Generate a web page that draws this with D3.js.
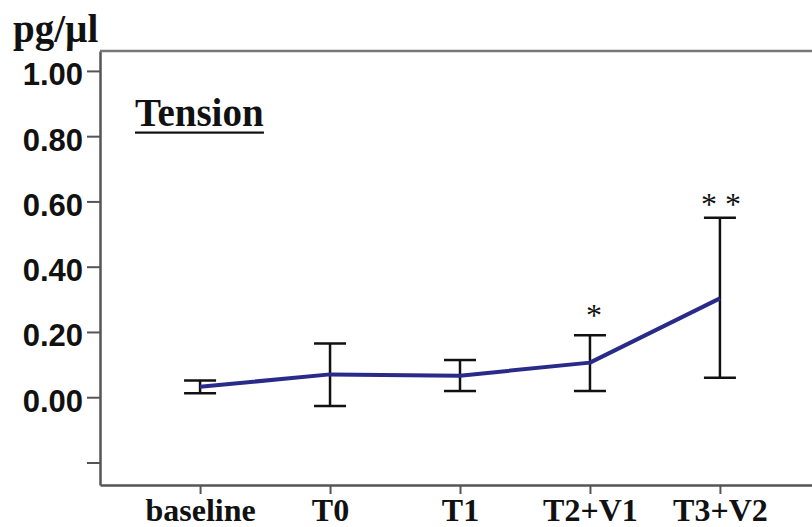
<!DOCTYPE html>
<html>
<head>
<meta charset="utf-8">
<script src="https://cdn.jsdelivr.net/npm/d3@7"></script>
<style>
  html, body { margin: 0; padding: 0; background: #fff; }
  svg { display: block; }
</style>
</head>
<body>
<svg id="chart" width="812" height="527"></svg>
<script>
// Time points and measured concentrations (pg/µl)
const categories = ["baseline", "T0", "T1", "T2+V1", "T3+V2"];
const meanValues = [0.032, 0.070, 0.066, 0.106, 0.303];
const upperValues = [0.051, 0.165, 0.114, 0.190, 0.550];
const lowerValues = [0.012, -0.027, 0.019, 0.019, 0.060];
const significance = ["", "", "", "*", "* *"];
const yTickValues = [-0.2, 0, 0.2, 0.4, 0.6, 0.8, 1.0];

const svg = d3.select("#chart");

const plotLeft = 100, plotRight = 820, plotTop = 51, plotBottom = 485;

const x = d3.scalePoint().domain(categories).range([plotLeft, plotRight]).padding(0.77);
const y = d3.scaleLinear().domain([-0.269, 1.061]).range([plotBottom, plotTop]);

const axisColor = "#555";

// Y axis
const yAxis = svg.append("g")
  .attr("transform", `translate(${plotLeft},0)`)
  .call(d3.axisLeft(y)
    .tickValues(yTickValues)
    .tickSize(13)
    .tickSizeOuter(0)
    .tickPadding(4)
    .tickFormat(d => d < 0 ? "" : d3.format(".2f")(d)));
yAxis.select(".domain").attr("stroke", axisColor).attr("stroke-width", 2.5);
yAxis.selectAll(".tick line").attr("stroke", axisColor).attr("stroke-width", 2);
yAxis.selectAll(".tick text")
  .attr("font-family", "'Liberation Sans', Arial, sans-serif")
  .attr("font-weight", "bold")
  .attr("font-size", 31)
  .attr("fill", "#111")
  .attr("dy", "0.45em");

// X axis
const xAxis = svg.append("g")
  .attr("transform", `translate(0,${plotBottom})`)
  .call(d3.axisBottom(x).tickSize(9).tickSizeOuter(0).tickPadding(6));
xAxis.select(".domain").attr("stroke", axisColor).attr("stroke-width", 2.5);
xAxis.selectAll(".tick line").attr("stroke", axisColor).attr("stroke-width", 2);
xAxis.selectAll(".tick text")
  .attr("font-family", "'Liberation Serif', 'Times New Roman', serif")
  .attr("font-weight", "bold")
  .attr("font-size", 32)
  .attr("fill", "#111")
  .attr("dy", "0.66em");

// Top frame line
svg.append("line")
  .attr("x1", plotLeft).attr("x2", 812)
  .attr("y1", plotTop).attr("y2", plotTop)
  .attr("stroke", "#777").attr("stroke-width", 2.5);

// Unit label
svg.append("text")
  .attr("x", 13).attr("y", 42)
  .attr("font-family", "'Liberation Serif', 'Times New Roman', serif")
  .attr("font-weight", "bold")
  .attr("font-size", 39)
  .attr("fill", "#111")
  .text("pg/µl");

// Panel title with underline
const title = svg.append("text")
  .attr("x", 135).attr("y", 126)
  .attr("font-family", "'Liberation Serif', 'Times New Roman', serif")
  .attr("font-weight", "bold")
  .attr("font-size", 39)
  .attr("fill", "#111")
  .text("Tension");
const tb = title.node().getBBox();
svg.append("rect")
  .attr("x", tb.x).attr("y", 131.5)
  .attr("width", tb.width).attr("height", 2.2)
  .attr("fill", "#111");

// Error bars
const capHalf = 16;
const bars = svg.append("g").attr("stroke", "#111").attr("stroke-width", 2.5);
categories.forEach((c, i) => {
  const cx = x(c);
  bars.append("line").attr("x1", cx).attr("x2", cx)
    .attr("y1", y(upperValues[i])).attr("y2", y(lowerValues[i]));
  bars.append("line").attr("x1", cx - capHalf).attr("x2", cx + capHalf)
    .attr("y1", y(upperValues[i])).attr("y2", y(upperValues[i]));
  bars.append("line").attr("x1", cx - capHalf).attr("x2", cx + capHalf)
    .attr("y1", y(lowerValues[i])).attr("y2", y(lowerValues[i]));
});

// Mean line
const line = d3.line()
  .x((d, i) => x(categories[i]))
  .y(d => y(d));
svg.append("path")
  .datum(meanValues)
  .attr("d", line)
  .attr("fill", "none")
  .attr("stroke", "#2a2a8a")
  .attr("stroke-width", 4)
  .attr("stroke-linejoin", "round");

// Significance markers above the upper whisker
categories.forEach((c, i) => {
  if (!significance[i]) return;
  const single = significance[i] === "*";
  svg.append("text")
    .attr("x", x(c) + (single ? 4 : 1))
    .attr("y", y(upperValues[i]) - (single ? 9 : 3))
    .attr("text-anchor", "middle")
    .attr("font-family", "'Liberation Serif', 'Times New Roman', serif")
    .attr("font-size", 32)
    .attr("fill", "#111")
    .text(significance[i]);
});
</script>
</body>
</html>
